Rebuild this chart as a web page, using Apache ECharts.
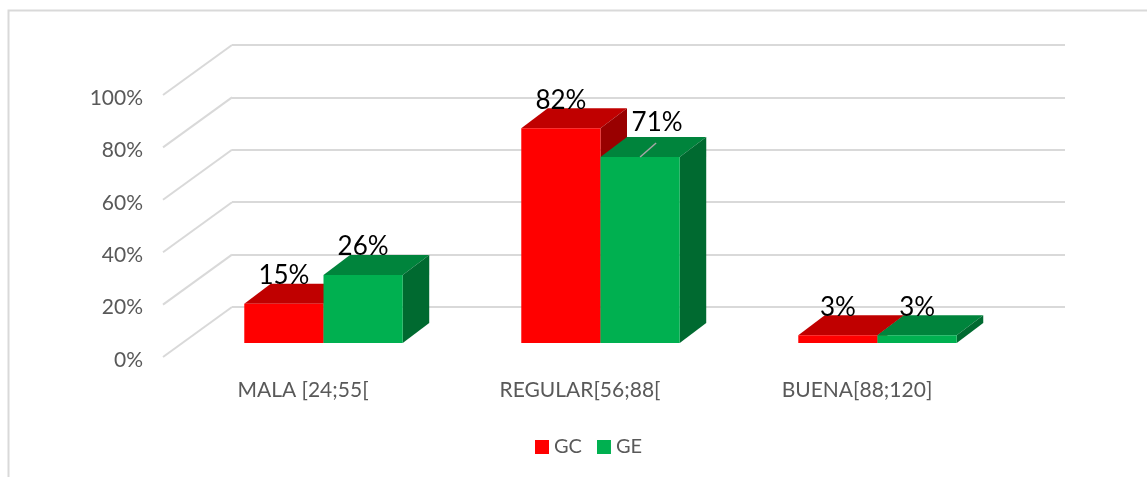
<!DOCTYPE html>
<html>
<head>
<meta charset="utf-8">
<style>html,body{margin:0;padding:0;background:#fff}#c{width:1147px;height:477px}</style>
<script src="https://cdn.jsdelivr.net/npm/echarts@6/dist/echarts.min.js"></script>
</head>
<body>
<div id="c"></div>
<script>
const categories = ['MALA [24;55[', 'REGULAR[56;88[', 'BUENA[88;120]'];
const gcValues = [15, 82, 3];
const geValues = [26, 71, 3];
const seriesNames = ['GC', 'GE'];
const gridTicks = [0, 20, 40, 60, 80, 100];

const FONT = 'Lato, "Open Sans", sans-serif';
const DEPTH_X = 26.5, DEPTH_Y = 20;
const BAR_SHARE = 0.286;
const WALL_X = 69, WALL_Y = 50;
const palette = {
  GC: { front: '#FF0000', top: '#C00000', side: '#990000' },
  GE: { front: '#00B050', top: '#00843C', side: '#006A30' }
};

function poly(points, fill) {
  return { type: 'polygon', shape: { points }, style: { fill, stroke: null } };
}

function barRenderer(name, slot) {
  const c = palette[name];
  return function (params, api) {
    const cat = api.value(0), val = api.value(1);
    const base = api.coord([cat, 0]);
    const top = api.coord([cat, val]);
    const w = api.size([1, 0])[0] * BAR_SHARE;
    const x0 = base[0] + slot * w, x1 = x0 + w;
    const yT = top[1], yB = base[1];
    const children = [
      poly([[x0, yT], [x1, yT], [x1 + DEPTH_X, yT - DEPTH_Y], [x0 + DEPTH_X, yT - DEPTH_Y]], c.top),
      poly([[x1, yT], [x1 + DEPTH_X, yT - DEPTH_Y], [x1 + DEPTH_X, yB - DEPTH_Y], [x1, yB]], c.side),
      poly([[x0, yT], [x1, yT], [x1, yB], [x0, yB]], c.front)
    ];
    const hasLeader = name === 'GE' && categories[cat].indexOf('REGULAR') === 0;
    const cx = (x0 + x1) / 2;
    if (hasLeader) {
      children.push({
        type: 'line',
        shape: { x1: cx, y1: yT, x2: cx + 16, y2: yT - 14 },
        style: { stroke: '#A6A6A6', lineWidth: 1.5 }
      });
    }
    children.push({
      type: 'text',
      style: {
        text: val + '%', x: cx + (hasLeader ? 17 : 0), y: yT - (hasLeader ? 34 : 28),
        align: 'center', verticalAlign: 'middle',
        fontFamily: FONT, fontSize: 26, fill: '#000'
      }
    });
    return { type: 'group', children };
  };
}

function wallRenderer(params, api) {
  const p = api.coord([0, api.value(0)]);
  return {
    type: 'line',
    shape: { x1: p[0], y1: p[1], x2: p[0] - WALL_X, y2: p[1] + WALL_Y },
    style: { stroke: '#D9D9D9', lineWidth: 2 }
  };
}

const chart = echarts.init(document.getElementById('c'), null, { renderer: 'canvas' });
chart.setOption({
  animation: false,
  backgroundColor: '#fff',
  color: [palette.GC.front, palette.GE.front],
  graphic: [{
    type: 'polyline', silent: true,
    shape: { points: [[8.5, 477], [8.5, 10.5], [1147, 10.5]] },
    style: { stroke: '#D9D9D9', lineWidth: 2, fill: null }
  }],
  legend: {
    data: seriesNames, left: 530, top: 432,
    itemWidth: 14, itemHeight: 14, itemGap: 15, icon: 'rect',
    textStyle: { color: '#595959', fontFamily: FONT, fontSize: 20 }
  },
  grid: [
    { left: 232, top: 45, width: 833, height: 262 },
    { left: 185, top: 81, width: 831, height: 262 },
    { left: 163, top: 98, width: 10, height: 262 }
  ],
  xAxis: [
    { gridIndex: 0, type: 'value', min: 0, max: 1, show: false },
    {
      gridIndex: 1, type: 'category', data: categories,
      axisLine: { show: false }, axisTick: { show: false },
      axisLabel: { color: '#595959', fontFamily: FONT, fontSize: 21, margin: 37, interval: 0, padding: [0, 41, 0, 0] }
    },
    { gridIndex: 2, type: 'value', min: 0, max: 1, show: false }
  ],
  yAxis: [
    {
      gridIndex: 0, type: 'value', min: 0, max: 100, interval: 20,
      axisLine: { show: false }, axisTick: { show: false }, axisLabel: { show: false },
      splitLine: { show: true, lineStyle: { color: '#D9D9D9', width: 2 } }
    },
    { gridIndex: 1, type: 'value', min: 0, max: 100, interval: 20, show: false, splitLine: { show: false } },
    {
      gridIndex: 2, type: 'value', min: 0, max: 100, interval: 20,
      axisLine: { show: false }, axisTick: { show: false }, splitLine: { show: false },
      axisLabel: { color: '#595959', fontFamily: FONT, fontSize: 21, margin: 20, formatter: '{value}%' }
    }
  ],
  series: [
    {
      type: 'custom', name: 'walls', xAxisIndex: 0, yAxisIndex: 0, silent: true, z: 1,
      renderItem: wallRenderer, data: gridTicks.map(v => [v]), encode: { y: 0 }, clip: false
    },
    {
      type: 'custom', name: seriesNames[0], xAxisIndex: 1, yAxisIndex: 1, z: 3,
      renderItem: barRenderer('GC', -1), data: gcValues.map((v, i) => [i, v]),
      encode: { x: 0, y: 1 }, itemStyle: { color: palette.GC.front }, clip: false
    },
    {
      type: 'custom', name: seriesNames[1], xAxisIndex: 1, yAxisIndex: 1, z: 4,
      renderItem: barRenderer('GE', 0), data: geValues.map((v, i) => [i, v]),
      encode: { x: 0, y: 1 }, itemStyle: { color: palette.GE.front }, clip: false
    }
  ]
});
</script>
</body>
</html>
